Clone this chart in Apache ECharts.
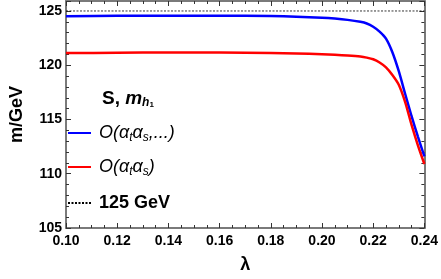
<!DOCTYPE html>
<html>
<head>
<meta charset="utf-8">
<script src="https://cdn.jsdelivr.net/npm/echarts@6/dist/echarts.min.js"></script>
<style>html,body{margin:0;padding:0;background:#fff;}#c{width:441px;height:279px;}</style>
</head>
<body>
<div id="c"></div>
<script>
const lambdaVals = [0.10, 0.12, 0.14, 0.16, 0.18, 0.19, 0.20, 0.205, 0.21, 0.215, 0.2175, 0.22, 0.2225, 0.225, 0.2275, 0.23, 0.2325, 0.235, 0.2375, 0.24];
const blueVals   = [124.52, 124.55, 124.57, 124.57, 124.53, 124.47, 124.38, 124.3, 124.18, 124.0, 123.85, 123.55, 123.1, 122.45, 121.2, 119.45, 117.35, 115.3, 113.4, 111.6];
const redVals    = [121.12, 121.15, 121.17, 121.17, 121.13, 121.08, 121.02, 120.97, 120.9, 120.8, 120.7, 120.55, 120.25, 119.8, 119.1, 118.2, 116.6, 114.5, 112.6, 110.9];
const refLine    = [[0.10, 125], [0.24, 125]];
const xTicks = [0.10, 0.12, 0.14, 0.16, 0.18, 0.20, 0.22, 0.24];
const yTicks = [105, 110, 115, 120, 125];

const chart = echarts.init(document.getElementById('c'), null, {renderer: 'canvas'});
const pair = (xs, ys) => xs.map((x, i) => [x, ys[i]]);
const FONT = '"Liberation Sans", Arial, sans-serif';
const frame = {show: true, lineStyle: {color: '#7a7a7a', width: 2}};
const tickStyle = {color: '#333', width: 1};

const legendRich = {
  i: {fontFamily: FONT, fontStyle: 'italic', fontSize: 18, color: '#000'},
  s: {fontFamily: FONT, fontStyle: 'italic', fontSize: 12, color: '#000', padding: [10, 0, 0, 0]},
  b: {fontFamily: FONT, fontWeight: 'bold', fontSize: 18, color: '#000'}
};
const legendFmt = function (name) {
  if (name === 'O1') return '{i|O(α}{s|t}{i|α}{s|s}{i|,...)}';
  if (name === 'O2') return '{i|O(α}{s|t}{i|α}{s|s}{i|)}';
  return '{b|125 GeV}';
};
function mkLegend(name, top) {
  return {
    data: [name], left: 67, top: top, itemWidth: 23, itemHeight: 12, padding: 0, itemGap: 0,
    formatter: legendFmt, textStyle: {rich: legendRich, padding: [0, 0, 0, 3]}, selectedMode: false,
    itemStyle: {opacity: 0, borderWidth: 0}
  };
}

chart.setOption({
  animation: false,
  backgroundColor: '#fff',
  grid: {left: 56, right: 15, top: 1, bottom: 50},
  title: {
    text: '{b|S, }{bi|m}{s|h}{ss|1}',
    left: 102, top: 88, padding: 0,
    textStyle: {rich: {
      b: {fontFamily: FONT, fontWeight: 'bold', fontSize: 19, color: '#000'},
      bi: {fontFamily: FONT, fontWeight: 'bold', fontStyle: 'italic', fontSize: 19, color: '#000'},
      s: {fontFamily: FONT, fontStyle: 'italic', fontSize: 12, color: '#000', padding: [9, 0, 0, 0]},
      ss: {fontFamily: FONT, fontSize: 8, color: '#000', padding: [13, 0, 0, 0]}
    }}
  },
  legend: [mkLegend('O1', 124), mkLegend('O2', 158), mkLegend('125 GeV', 194)],
  xAxis: [{
    type: 'value', min: 0.10, max: 0.24, interval: 0.02,
    name: 'λ', nameLocation: 'middle', nameGap: 28,
    nameTextStyle: {fontFamily: FONT, fontWeight: 'bold', fontSize: 18, color: '#000'},
    axisLine: frame,
    axisTick: {show: true, inside: true, length: 5, lineStyle: tickStyle},
    minorTick: {show: true, splitNumber: 4, length: 3, lineStyle: tickStyle},
    splitLine: {show: false},
    axisLabel: {fontFamily: FONT, fontWeight: 'bold', fontSize: 14, color: '#000', margin: 6,
      formatter: v => xTicks.some(t => Math.abs(t - v) < 1e-9) ? v.toFixed(2) : ''}
  }, {
    type: 'value', min: 0.10, max: 0.24, interval: 0.02, position: 'top',
    axisLine: frame,
    axisTick: {show: true, inside: true, length: 5, lineStyle: tickStyle},
    minorTick: {show: true, splitNumber: 4, length: 3, lineStyle: tickStyle},
    splitLine: {show: false}, axisLabel: {show: false}
  }],
  yAxis: [{
    type: 'value', min: 105, max: 125.92, interval: 5,
    name: 'm/GeV', nameLocation: 'middle', nameGap: 40, nameRotate: 90,
    nameTextStyle: {fontFamily: FONT, fontWeight: 'bold', fontSize: 18, color: '#000'},
    axisLine: frame,
    axisTick: {show: true, inside: true, length: 5, lineStyle: tickStyle},
    minorTick: {show: true, splitNumber: 5, length: 3, lineStyle: tickStyle},
    splitLine: {show: false},
    axisLabel: {fontFamily: FONT, fontWeight: 'bold', fontSize: 14, color: '#000', margin: 4,
      showMaxLabel: false,
      formatter: v => yTicks.indexOf(Math.round(v)) >= 0 && Math.abs(v - Math.round(v)) < 1e-6 ? String(Math.round(v)) : ''}
  }, {
    type: 'value', min: 105, max: 125.92, interval: 5, position: 'right',
    axisLine: frame,
    axisTick: {show: true, inside: true, length: 5, lineStyle: tickStyle},
    minorTick: {show: true, splitNumber: 5, length: 3, lineStyle: tickStyle},
    splitLine: {show: false}, axisLabel: {show: false}
  }],
  series: [
    {name: 'O1', type: 'line', data: pair(lambdaVals, blueVals), smooth: 0.25, symbol: 'none',
     lineStyle: {color: '#0000ff', width: 2.5}, itemStyle: {color: '#0000ff'}, z: 3},
    {name: 'O2', type: 'line', data: pair(lambdaVals, redVals), smooth: 0.25, symbol: 'none',
     lineStyle: {color: '#ff0000', width: 2.5}, itemStyle: {color: '#ff0000'}, z: 3},
    {name: '125 GeV', type: 'line', data: refLine, symbol: 'none',
     lineStyle: {color: '#000', width: 0.8, type: [2, 1.5]}, itemStyle: {color: '#000'}, z: 2}
  ]
});
</script>
</body>
</html>
